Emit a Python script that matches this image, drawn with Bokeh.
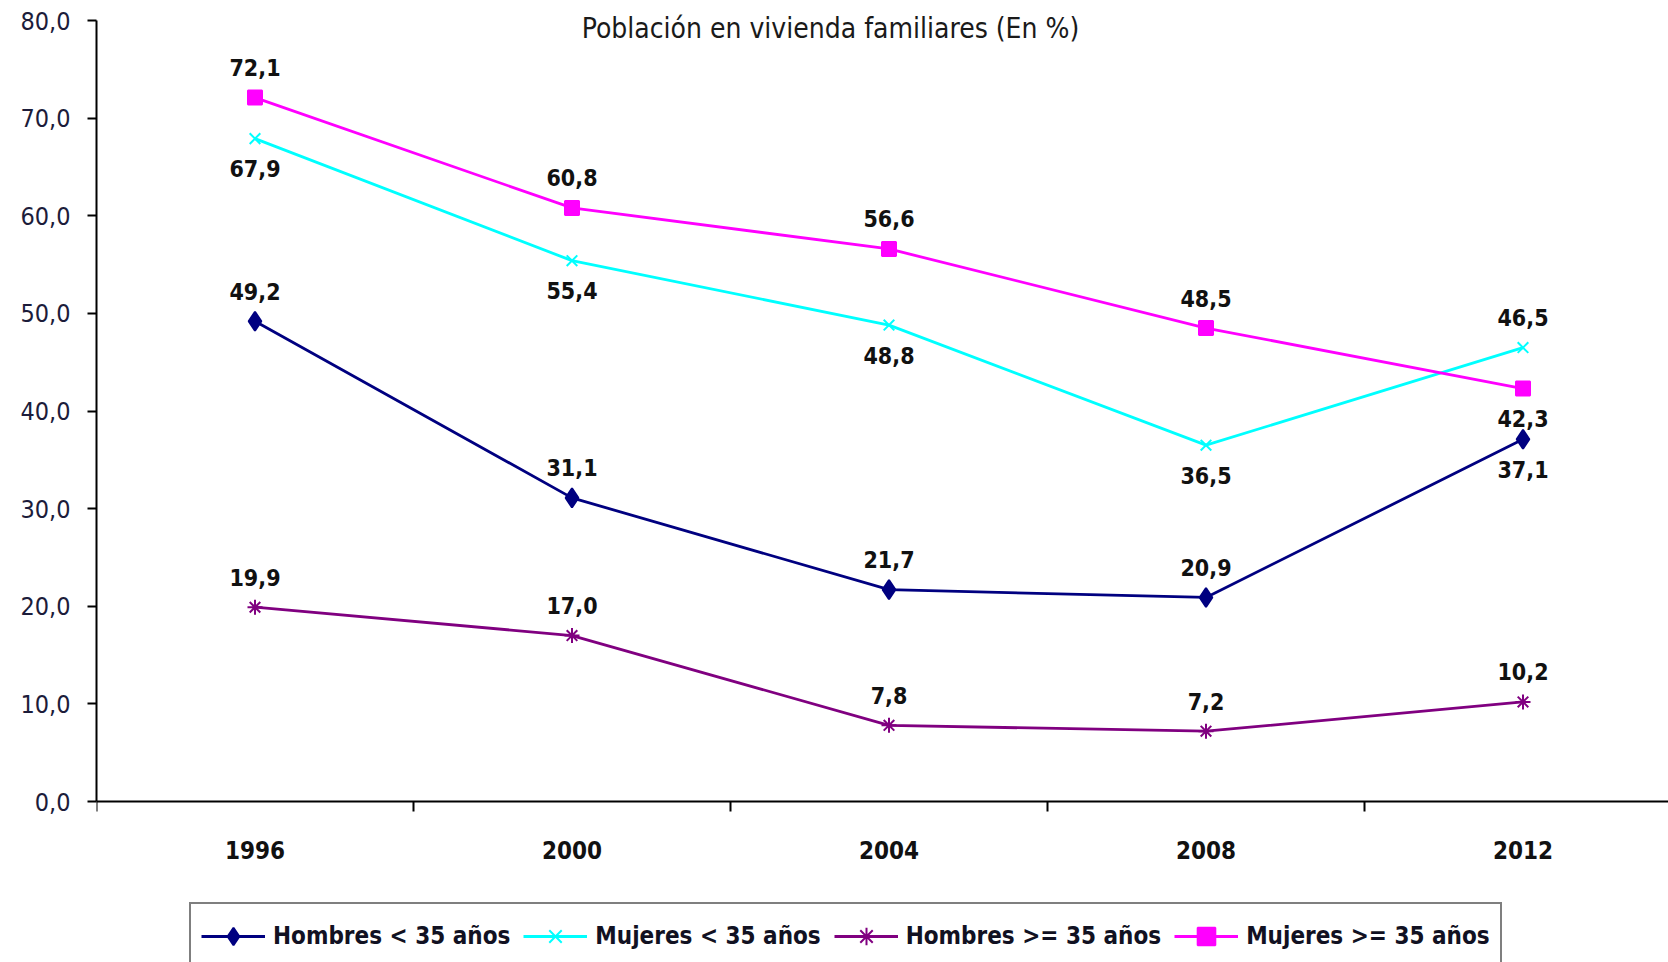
from bokeh.plotting import figure
from bokeh.models import (ColumnDataSource, Range1d, FixedTicker, Legend, LegendItem, Label)
from bokeh.core.properties import value
from bokeh.embed import file_html
from bokeh.resources import INLINE

# ---- data ----
years = ["1996", "2000", "2004", "2008", "2012"]
hombres_menor = [49.2, 31.1, 21.7, 20.9, 37.1]
mujeres_menor = [67.9, 55.4, 48.8, 36.5, 46.5]
hombres_mayor = [19.9, 17.0, 7.8, 7.2, 10.2]
mujeres_mayor = [72.1, 60.8, 56.6, 48.5, 42.3]
series_names = ["Hombres < 35 años", "Mujeres < 35 años", "Hombres >= 35 años", "Mujeres >= 35 años"]
y_ticks = [0, 10, 20, 30, 40, 50, 60, 70, 80]
title_text = "Población en vivienda familiares (En %)"

# label placement (1 = above, -1 = below)
place_hm = [1, 1, 1, 1, -1]
place_mm = [-1, -1, -1, -1, 1]
place_hy = [1, 1, 1, 1, 1]
place_my = [1, 1, 1, 1, -1]

FONT = "DejaVu Sans Condensed"
W, H = 1668, 962
FL = 96                     # frame left border (px)
Y0_PX, Y80_PX = 801, 20     # screen rows of 0 and 80 on the value axis
PX_PER_CAT = 317.0
px_per_unit = (Y0_PX - Y80_PX) / 80.0
x_idx = list(range(len(years)))

p = figure(width=W, height=H, output_backend="svg", toolbar_location=None,
           x_range=Range1d(-0.5, -0.5 + (W - FL) / PX_PER_CAT),
           y_range=Range1d(-(H - Y0_PX) / px_per_unit, 80 + Y80_PX / px_per_unit),
           min_border_left=FL, min_border_right=0, min_border_top=0, min_border_bottom=0,
           background_fill_color="white", border_fill_color="white")
p.outline_line_color = None
p.grid.visible = False

# category axis drawn at value 0
p.xaxis.fixed_location = 0
p.xaxis.ticker = FixedTicker(ticks=x_idx, minor_ticks=[i - 0.5 for i in x_idx])
p.xaxis.major_label_overrides = {i: y for i, y in zip(x_idx, years)}
p.xaxis.major_tick_out = 0
p.xaxis.major_tick_in = 0
p.xaxis.minor_tick_out = 10
p.xaxis.minor_tick_in = 0
p.xaxis.minor_tick_line_color = "black"
p.xaxis.minor_tick_line_width = 2
p.xaxis.major_label_standoff = 29
p.xaxis.major_label_text_font = FONT
p.xaxis.major_label_text_font_style = "bold"
p.xaxis.major_label_text_font_size = "24px"
p.xaxis.major_label_text_color = "#111111"
p.xaxis.axis_line_width = 2
p.xaxis.axis_line_color = "black"

p.yaxis.ticker = FixedTicker(ticks=y_ticks)
p.yaxis.major_label_overrides = {t: f"{t:.1f}".replace(".", ",") for t in y_ticks}
p.yaxis.bounds = (0, 80)
p.yaxis.major_tick_out = 9
p.yaxis.major_tick_in = 0
p.yaxis.major_tick_line_width = 2
p.yaxis.minor_tick_out = 0
p.yaxis.minor_tick_in = 0
p.yaxis.major_label_standoff = 17
p.yaxis.major_label_text_font = FONT
p.yaxis.major_label_text_font_size = "25px"
p.yaxis.major_label_text_color = "#1c1c3a"
p.yaxis.axis_line_width = 2
p.yaxis.axis_line_color = "black"

series = [
    (hombres_menor, "#000080", "diamond", 19, place_hm),
    (mujeres_menor, "#00FFFF", "x", 15, place_mm),
    (hombres_mayor, "#800080", "asterisk", 15, place_hy),
    (mujeres_mayor, "#FF00FF", "square", 14, place_my),
]

items = []
for (vals, color, marker, size, place), name in zip(series, series_names):
    src = ColumnDataSource(dict(
        x=x_idx, y=vals,
        lab=[f"{v:.1f}".replace(".", ",") for v in vals],
        dy=[-30 if s > 0 else 30 for s in place],
    ))
    lr = p.line("x", "y", source=src, line_color=color, line_width=2.8)
    sr = p.scatter("x", "y", source=src, marker=marker, size=size,
                   fill_color=color, line_color=color, line_width=2)
    p.text("x", "y", text="lab", source=src, y_offset="dy",
           text_align="center", text_baseline="middle",
           text_font=value(FONT), text_font_style="bold",
           text_font_size="23px", text_color="#111111")
    items.append(LegendItem(label=name, renderers=[lr, sr]))

legend = Legend(items=items, orientation="horizontal", location=(93, -8),
                padding=10, spacing=13, glyph_width=64, glyph_height=44,
                label_height=44, label_standoff=8, margin=0,
                label_text_font=FONT, label_text_font_size="24px",
                label_text_font_style="bold", label_text_color="#111122",
                border_line_color="black", border_line_width=2.5,
                background_fill_color="white", background_fill_alpha=1.0)
p.add_layout(legend)

title = Label(x=(830 - FL), y=H - 28, x_units="screen", y_units="screen",
              text=title_text, text_align="center", text_baseline="alphabetic",
              text_font=FONT, text_font_size="28px", text_color="#1a1a1a")
p.add_layout(title)

open("out.html", "w").write(file_html(p, INLINE))
